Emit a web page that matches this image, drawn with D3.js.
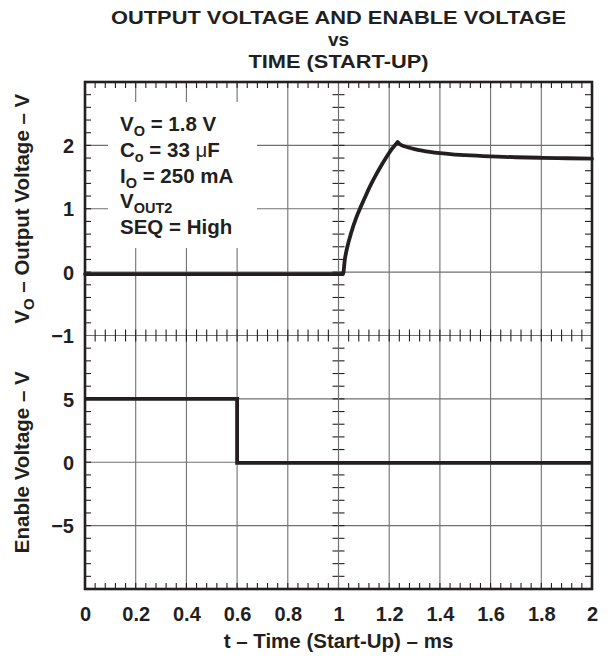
<!DOCTYPE html>
<html>
<head>
<meta charset="utf-8">
<script src="https://cdn.jsdelivr.net/npm/d3@7"></script>
<style>
  html, body { margin: 0; padding: 0; background: #fff; }
  svg { display: block; }
  text { font-family: "Liberation Sans", Arial, Helvetica, sans-serif; font-weight: bold; fill: #231f20; }
</style>
</head>
<body>
<div id="chart"></div>
<script>
/* ---- data ---- */
const timeTicks = [0, 0.2, 0.4, 0.6, 0.8, 1, 1.2, 1.4, 1.6, 1.8, 2];
const voutTicks = [-1, 0, 1, 2];
const enableTicks = [-5, 0, 5];

// output voltage trace (ms, V): rise up to the overshoot peak, then settling
const voutTime = [0, 1.018, 1.025, 1.035, 1.05, 1.07, 1.09, 1.11, 1.13, 1.15, 1.17, 1.19, 1.21, 1.233,
  1.245, 1.26, 1.28, 1.3, 1.33, 1.36, 1.4, 1.45, 1.5, 1.6, 1.7, 1.8, 1.9, 2.0];
const voutValue = [-0.03, -0.03, 0.2, 0.4, 0.62, 0.86, 1.05, 1.23, 1.40, 1.55, 1.69, 1.82, 1.94, 2.05,
  2.01, 1.985, 1.962, 1.942, 1.918, 1.898, 1.877, 1.858, 1.845, 1.826, 1.813, 1.804, 1.797, 1.79];
const peakIndex = 13;

// enable voltage trace (ms, V)
const enableTime = [0, 0.6, 0.6, 2.0];
const enableValue = [5, 5, -0.05, -0.05];

const titleLines = ['OUTPUT VOLTAGE AND ENABLE VOLTAGE', 'vs', 'TIME (START-UP)'];

const notes = [
  [["V", ""], ["O", "sub"], [" = 1.8 V", ""]],
  [["C", ""], ["o", "sub"], [" = 33 ", ""], ["\u03bc", "mu"], ["F", ""]],
  [["I", ""], ["O", "sub"], [" = 250 mA", ""]],
  [["V", ""], ["OUT2", "sub"]],
  [["SEQ = High", ""]]
];

/* ---- layout ---- */
const W = 610, H = 656;
const L = 85, R = 592, T = 82, B = 589, MID = 335.5;
const ink = '#231f20', gridCol = '#707070';

const x = d3.scaleLinear().domain([0, 2]).range([L, R]);
const yTop = d3.scaleLinear().domain([-1, 3]).range([MID, T]);
const yBot = d3.scaleLinear().domain([-10, 10]).range([B, MID]);

const svg = d3.select('#chart').append('svg').attr('width', W).attr('height', H);

/* title (slightly widened glyphs, like the original face) */
const titleY = [23.5, 45.5, 67.5];
const titleLen = [455, null, 180];
const title = svg.append('g').attr('text-anchor', 'middle');
titleLines.forEach((t, i) => {
  const el = title.append('text').attr('x', (L + R) / 2).attr('y', titleY[i]).style('font-size', '19px').text(t);
  if (titleLen[i]) el.attr('textLength', titleLen[i]).attr('lengthAdjust', 'spacingAndGlyphs');
});

/* grid */
const grid = svg.append('g').attr('stroke', gridCol).attr('stroke-width', 1.1);
d3.range(1, 10).map(i => i * 0.2).forEach(t => {
  grid.append('line').attr('x1', x(t)).attr('x2', x(t)).attr('y1', T).attr('y2', B);
});
[0, 1, 2].forEach(v => grid.append('line').attr('x1', L).attr('x2', R).attr('y1', yTop(v)).attr('y2', yTop(v)));
[-5, 0, 5].forEach(v => grid.append('line').attr('x1', L).attr('x2', R).attr('y1', yBot(v)).attr('y2', yBot(v)));
grid.append('line').attr('x1', L).attr('x2', R).attr('y1', MID).attr('y2', MID);

/* minor ticks: borders and centre cross */
const ticks = svg.append('g').attr('stroke', ink).attr('stroke-width', 1.1);
d3.range(1, 50).map(i => i * 0.04).forEach(t => {
  const px = x(t);
  ticks.append('line').attr('x1', px).attr('x2', px).attr('y1', T).attr('y2', T + 6);
  ticks.append('line').attr('x1', px).attr('x2', px).attr('y1', B).attr('y2', B - 6);
  ticks.append('line').attr('x1', px).attr('x2', px).attr('y1', MID - 6).attr('y2', MID + 6);
});
d3.range(1, 20).map(i => yTop(-1 + i * 0.2))
  .concat(d3.range(1, 20).map(i => yBot(-10 + i)))
  .forEach(py => {
    ticks.append('line').attr('x1', L).attr('x2', L + 6).attr('y1', py).attr('y2', py);
    ticks.append('line').attr('x1', R).attr('x2', R - 7).attr('y1', py).attr('y2', py);
    ticks.append('line').attr('x1', x(1) - 6).attr('x2', x(1) + 6).attr('y1', py).attr('y2', py);
  });
ticks.append('line').attr('x1', x(1)).attr('x2', x(1)).attr('y1', T).attr('y2', B).attr('stroke', gridCol);

/* annotation box */
svg.append('rect').attr('x', 108).attr('y', 102).attr('width', 149).attr('height', 146).attr('fill', '#fff');
const ann = svg.append('g');
notes.forEach((parts, i) => {
  const t = ann.append('text').attr('x', 120).attr('y', 131 + i * 25.8).style('font-size', '20.5px');
  let shifted = false;
  parts.forEach(([s, kind]) => {
    const sp = t.append('tspan').text(s);
    if (kind === 'sub') { sp.attr('dy', 5).style('font-size', '14.5px'); shifted = true; }
    else if (shifted) { sp.attr('dy', -5); shifted = false; }
    if (kind === 'mu') sp.style('font-weight', 'normal');
  });
});

/* traces */
const voutPts = d3.zip(voutTime, voutValue);
const lineTop = d3.line().x(d => x(d[0])).y(d => yTop(d[1])).curve(d3.curveMonotoneX);
const lineBot = d3.line().x(d => x(d[0])).y(d => yBot(d[1]));
[voutPts.slice(0, peakIndex + 1), voutPts.slice(peakIndex)].forEach(seg => {
  svg.append('path').datum(seg).attr('d', lineTop)
    .attr('fill', 'none').attr('stroke', ink).attr('stroke-width', 3.8).attr('stroke-linecap', 'round');
});
svg.append('path').datum(d3.zip(enableTime, enableValue)).attr('d', lineBot)
  .attr('fill', 'none').attr('stroke', ink).attr('stroke-width', 3.8).attr('stroke-linejoin', 'miter');

/* frame */
svg.append('rect').attr('x', L).attr('y', T).attr('width', R - L).attr('height', B - T)
  .attr('fill', 'none').attr('stroke', ink).attr('stroke-width', 2.6);

/* tick labels via d3 axes */
const ax = svg.append('g').attr('transform', `translate(0,${B + 11})`)
  .call(d3.axisBottom(x).tickValues(timeTicks).tickFormat(d3.format('.1~f')).tickSize(0));
const al = svg.append('g').attr('transform', `translate(${L - 8},0)`)
  .call(d3.axisLeft(yTop).tickValues(voutTicks).tickFormat(d3.format('d')).tickSize(0));
const ab = svg.append('g').attr('transform', `translate(${L - 8},0)`)
  .call(d3.axisLeft(yBot).tickValues(enableTicks).tickFormat(d3.format('d')).tickSize(0));
[ax, al, ab].forEach(g => {
  g.select('.domain').remove();
  g.selectAll('text').style('font-size', '20px').style('font-family', '"Liberation Sans", Arial, sans-serif')
    .style('font-weight', 'bold').attr('fill', ink);
});
ax.selectAll('text').attr('dy', '0.9em');
al.selectAll('text').attr('dy', '0.36em');
ab.selectAll('text').attr('dy', '0.36em');

/* axis titles */
svg.append('text').attr('x', (L + R) / 2).attr('y', 648).attr('text-anchor', 'middle')
  .style('font-size', '20.5px').text('t \u2013 Time (Start-Up) \u2013 ms');

const yl1 = svg.append('text').attr('transform', `translate(29,${(T + MID) / 2}) rotate(-90)`)
  .attr('text-anchor', 'middle').style('font-size', '20.5px');
yl1.append('tspan').text('V');
yl1.append('tspan').text('O').attr('dy', 5).style('font-size', '15px');
yl1.append('tspan').text(' \u2013 Output Voltage \u2013 V').attr('dy', -5);

svg.append('text').attr('transform', `translate(29,${(MID + B) / 2}) rotate(-90)`)
  .attr('text-anchor', 'middle').style('font-size', '20.5px').text('Enable Voltage \u2013 V');
</script>
</body>
</html>
